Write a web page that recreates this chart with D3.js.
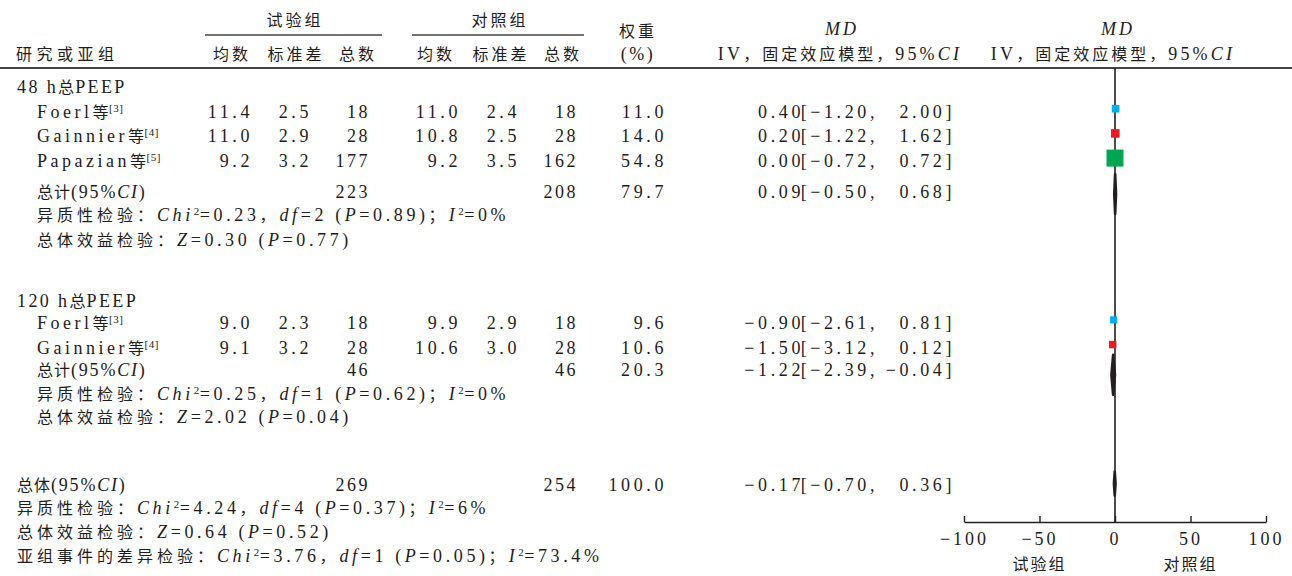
<!DOCTYPE html>
<html>
<head>
<meta charset="utf-8">
<script src="https://cdn.jsdelivr.net/npm/d3@7"></script>
<style>
  body { margin: 0; background: #fff; }
  svg text { font-family: "Liberation Serif", "Noto Sans CJK SC", serif; fill: #1e1c1d; }
</style>
</head>
<body>
<div id="chart"></div>
<script>
// ---- data ----
const groupNames = ["48 h总PEEP", "120 h总PEEP"];
const studyNames = ["Foerl等", "Gainnier等", "Papazian等", "Foerl等", "Gainnier等"];
const studyRefs = ["[3]", "[4]", "[5]", "[3]", "[4]"];
const studyGroup = [0, 0, 0, 1, 1];
const expMean = [11.4, 11.0, 9.2, 9.0, 9.1];
const expSD = [2.5, 2.9, 3.2, 2.3, 3.2];
const expN = [18, 28, 177, 18, 28];
const ctlMean = [11.0, 10.8, 9.2, 9.9, 10.6];
const ctlSD = [2.4, 2.5, 3.5, 2.9, 3.0];
const ctlN = [18, 28, 162, 18, 28];
const studyWeight = [11.0, 14.0, 54.8, 9.6, 10.6];
const studyMD = [0.40, 0.20, 0.00, -0.90, -1.50];
const studyLo = [-1.20, -1.22, -0.72, -2.61, -3.12];
const studyHi = [2.00, 1.62, 0.72, 0.81, 0.12];

const subExpN = [223, 46];
const subCtlN = [208, 46];
const subWeight = [79.7, 20.3];
const subMD = [0.09, -1.22];
const subLo = [-0.50, -2.39];
const subHi = [0.68, -0.04];
const subChi = [0.23, 0.25];
const subDf = [2, 1];
const subHetP = [0.89, 0.62];
const subI2 = ["0", "0"];
const subZ = [0.30, 2.02];
const subZP = [0.77, 0.04];

const totExpN = 269, totCtlN = 254, totWeight = 100.0;
const totMD = -0.17, totLo = -0.70, totHi = 0.36;
const totChi = 4.24, totDf = 4, totHetP = 0.37, totI2 = "6";
const totZ = 0.64, totZP = 0.52;
const diffChi = 3.76, diffDf = 1, diffP = 0.05, diffI2 = "73.4";

const axisTicks = [-100, -50, 0, 50, 100];
const sideLabels = ["试验组", "对照组"];

// ---- layout ----
const width = 1292, height = 576;
const svg = d3.select("#chart").append("svg")
  .attr("width", width).attr("height", height);

const ink = "#231f20";
const studyColor = ["#00aeef", "#ed1c24", "#00a651", "#00aeef", "#ed1c24"];

// row slots -> y
const y = d3.scaleLinear().domain([0, 1]).range([87, 87 + 24.7]);
const groupSlots = [
  { head: 0, studies: [1, 2, 3], sub: 4.25, het: 5.2, eff: 6.2 },
  { head: 8.65, studies: [9.55, 10.55], sub: 11.45, het: 12.45, eff: 13.35 }
];
const totSlots = { tot: 16.1, het: 17.05, eff: 18.0, diff: 19.0 };

const x = d3.scaleLinear().domain([-100, 100]).range([964, 1266]);
const axisY = 522;
const boxSide = d3.scaleSqrt().domain([0, 54.8]).range([0, 17]);

const col = { expMean: 253, expSD: 312, expN: 370, ctlMean: 461, ctlSD: 520, ctlN: 578, weight: 667,
  est: 804, lo: 878, hi: 955 };

const fmt1 = v => v.toFixed(1);
const fmt2 = v => (v < 0 ? "−" : "") + Math.abs(v).toFixed(2);

const cjkRe = /([\u2E80-\u9FFF\u3000-\u303F\uFF00-\uFFEF]+)/;

// text with CJK / latin runs, italic and superscript pieces
function addText(g, px, py, segs, opts = {}) {
  const size = opts.size || 18, cjkSize = opts.cjkSize || 16;
  const ls = opts.ls != null ? opts.ls : 3.6, cls = opts.cls != null ? opts.cls : 4;
  const t = g.append("text")
    .attr("x", px).attr("y", py).attr("dy", "0.33em")
    .attr("font-size", size)
    .attr("text-anchor", opts.anchor || "start");
  let shift = 0;
  segs.forEach(s => {
    const seg = typeof s === "string" ? { t: s } : s;
    seg.t.split(cjkRe).filter(r => r.length).forEach(run => {
      const sp = t.append("tspan").text(run);
      const isCjk = cjkRe.test(run);
      if (seg.sup) {
        sp.attr("font-size", 11).style("letter-spacing", "0.5px").attr("dy", -6);
        shift = 6;
      } else {
        sp.attr("font-size", isCjk ? cjkSize : size)
          .style("letter-spacing", (isCjk ? cls : ls) + "px");
        if (shift) { sp.attr("dy", shift); shift = 0; }
      }
      if (seg.i) sp.attr("font-style", "italic");
    });
  });
  return t;
}

function hetSegs(chi, df, p, i2, label) {
  return [label || "异质性检验：", { t: "Chi", i: true }, { t: "2", sup: true }, "=" + chi.toFixed(2) + "，",
    { t: "df", i: true }, "=" + df + " (", { t: "P", i: true }, "=" + p.toFixed(2) + ")；",
    { t: "I", i: true }, { t: "2", sup: true }, "=" + i2 + "%"];
}
function effSegs(z, p) {
  return ["总体效益检验：", { t: "Z", i: true }, "=" + z.toFixed(2) + " (", { t: "P", i: true }, "=" + p.toFixed(2) + ")"];
}

const head = svg.append("g");
// header row 1
addText(head, 295, 20, ["试验组"], { anchor: "middle", cls: 3 });
addText(head, 500, 20, ["对照组"], { anchor: "middle", cls: 3 });
addText(head, 638, 31, ["权重"], { anchor: "middle", cls: 3 });
addText(head, 842, 29, [{ t: "MD", i: true }], { anchor: "middle", ls: 3 });
addText(head, 1118, 29, [{ t: "MD", i: true }], { anchor: "middle", ls: 3 });
head.append("line").attr("x1", 205).attr("x2", 382).attr("y1", 35).attr("y2", 35)
  .attr("stroke", "#444").attr("stroke-width", 1.5);
head.append("line").attr("x1", 412).attr("x2", 584).attr("y1", 35).attr("y2", 35)
  .attr("stroke", "#444").attr("stroke-width", 1.5);
// header row 2
addText(head, 16, 54, ["研究或亚组"], { cls: 4.5 });
[["均数", 232], ["标准差", 296], ["总数", 358], ["均数", 436], ["标准差", 501], ["总数", 563]].forEach(d =>
  addText(head, d[1], 54, [d[0]], { anchor: "middle", cls: 3 }));
addText(head, 638, 54, ["(%)"], { anchor: "middle", ls: 2.5 });
addText(head, 840, 54, ["IV，固定效应模型，95%", { t: "CI", i: true }], { anchor: "middle", ls: 3.2, cls: 3 });
addText(head, 1113, 54, ["IV，固定效应模型，95%", { t: "CI", i: true }], { anchor: "middle", ls: 3.2, cls: 3 });
head.append("line").attr("x1", 0).attr("x2", width).attr("y1", 68).attr("y2", 68)
  .attr("stroke", "#444").attr("stroke-width", 2);

// ---- table body ----
const body = svg.append("g");
function ciText(py, est, lo, hi) {
  addText(body, col.est, py, [fmt2(est)], { anchor: "end" });
  addText(body, col.lo, py, ["[" + fmt2(lo) + ","], { anchor: "end" });
  addText(body, col.hi, py, [fmt2(hi) + "]"], { anchor: "end" });
}

groupNames.forEach((gname, gi) => {
  const slots = groupSlots[gi];
  addText(body, 17, y(slots.head), [gname], { ls: 2.4, cls: 1 });
  const idx = studyGroup.map((g, i) => g === gi ? i : -1).filter(i => i >= 0);
  idx.forEach((si, k) => {
    const py = y(slots.studies[k]);
    addText(body, 37, py, [studyNames[si], { t: studyRefs[si], sup: true }], { ls: 3.5, cls: 0.5 });
    addText(body, col.expMean, py, [fmt1(expMean[si])], { anchor: "end" });
    addText(body, col.expSD, py, [fmt1(expSD[si])], { anchor: "end" });
    addText(body, col.expN, py, [String(expN[si])], { anchor: "end", ls: 2.5 });
    addText(body, col.ctlMean, py, [fmt1(ctlMean[si])], { anchor: "end" });
    addText(body, col.ctlSD, py, [fmt1(ctlSD[si])], { anchor: "end" });
    addText(body, col.ctlN, py, [String(ctlN[si])], { anchor: "end", ls: 2.5 });
    addText(body, col.weight, py, [fmt1(studyWeight[si])], { anchor: "end" });
    ciText(py, studyMD[si], studyLo[si], studyHi[si]);
  });
  const sy = y(slots.sub);
  addText(body, 37, sy, ["总计(95%", { t: "CI", i: true }, ")"], { ls: 1.8, cls: 1 });
  addText(body, col.expN, sy, [String(subExpN[gi])], { anchor: "end", ls: 2.5 });
  addText(body, col.ctlN, sy, [String(subCtlN[gi])], { anchor: "end", ls: 2.5 });
  addText(body, col.weight, sy, [fmt1(subWeight[gi])], { anchor: "end" });
  ciText(sy, subMD[gi], subLo[gi], subHi[gi]);
  addText(body, 37, y(slots.het), hetSegs(subChi[gi], subDf[gi], subHetP[gi], subI2[gi]));
  addText(body, 37, y(slots.eff), effSegs(subZ[gi], subZP[gi]));
});

const ty = y(totSlots.tot);
addText(body, 17, ty, ["总体(95%", { t: "CI", i: true }, ")"], { ls: 1.8, cls: 1 });
addText(body, col.expN, ty, [String(totExpN)], { anchor: "end", ls: 2.5 });
addText(body, col.ctlN, ty, [String(totCtlN)], { anchor: "end", ls: 2.5 });
addText(body, col.weight, ty, [fmt1(totWeight)], { anchor: "end" });
ciText(ty, totMD, totLo, totHi);
addText(body, 17, y(totSlots.het), hetSegs(totChi, totDf, totHetP, totI2));
addText(body, 17, y(totSlots.eff), effSegs(totZ, totZP));
addText(body, 17, y(totSlots.diff), hetSegs(diffChi, diffDf, diffP, diffI2, "亚组事件的差异检验："));

// ---- forest plot ----
const plot = svg.append("g");
plot.append("line")
  .attr("x1", x(0)).attr("x2", x(0)).attr("y1", 68).attr("y2", axisY)
  .attr("stroke", ink).attr("stroke-width", 1.6);

const studyRows = studyMD.map((m, i) => {
  const gi = studyGroup[i];
  const k = studyGroup.slice(0, i).filter(g => g === gi).length;
  return { md: m, w: studyWeight[i], color: studyColor[i], py: y(groupSlots[gi].studies[k]) };
});
plot.selectAll("rect.study").data(studyRows).join("rect")
  .attr("class", "study")
  .attr("x", d => x(d.md) - boxSide(d.w) / 2)
  .attr("y", d => d.py - 3 - boxSide(d.w) / 2)
  .attr("width", d => boxSide(d.w))
  .attr("height", d => boxSide(d.w))
  .attr("fill", d => d.color);

const diamonds = [
  { md: subMD[0], lo: subLo[0], hi: subHi[0], py: y(groupSlots[0].sub) + 2, h: 20 },
  { md: subMD[1], lo: subLo[1], hi: subHi[1], py: y(groupSlots[1].sub) + 5, h: 20 },
  { md: totMD, lo: totLo, hi: totHi, py: y(totSlots.tot) - 1, h: 12 }
];
plot.selectAll("path.diamond").data(diamonds).join("path")
  .attr("class", "diamond")
  .attr("d", d => `M${x(d.lo)},${d.py}L${x(d.md)},${d.py - d.h}L${x(d.hi)},${d.py}L${x(d.md)},${d.py + d.h}Z`)
  .attr("fill", ink).attr("stroke", ink).attr("stroke-width", 2.6).attr("stroke-linejoin", "round");

const axis = d3.axisBottom(x).tickValues(axisTicks).tickSizeInner(-6).tickSizeOuter(0).tickPadding(10);
const ag = plot.append("g").attr("transform", `translate(0,${axisY})`).call(axis);
ag.select(".domain").attr("stroke", ink).attr("stroke-width", 1.4);
ag.selectAll(".tick line").attr("stroke", ink).attr("stroke-width", 1.4);
ag.selectAll(".tick text")
  .attr("font-size", 18).attr("font-family", null).attr("fill", ink)
  .style("letter-spacing", "3px");

sideLabels.forEach((s, i) => {
  addText(plot, x(i === 0 ? -50 : 50), 564, [s], { anchor: "middle", cls: 2 });
});
</script>
</body>
</html>
